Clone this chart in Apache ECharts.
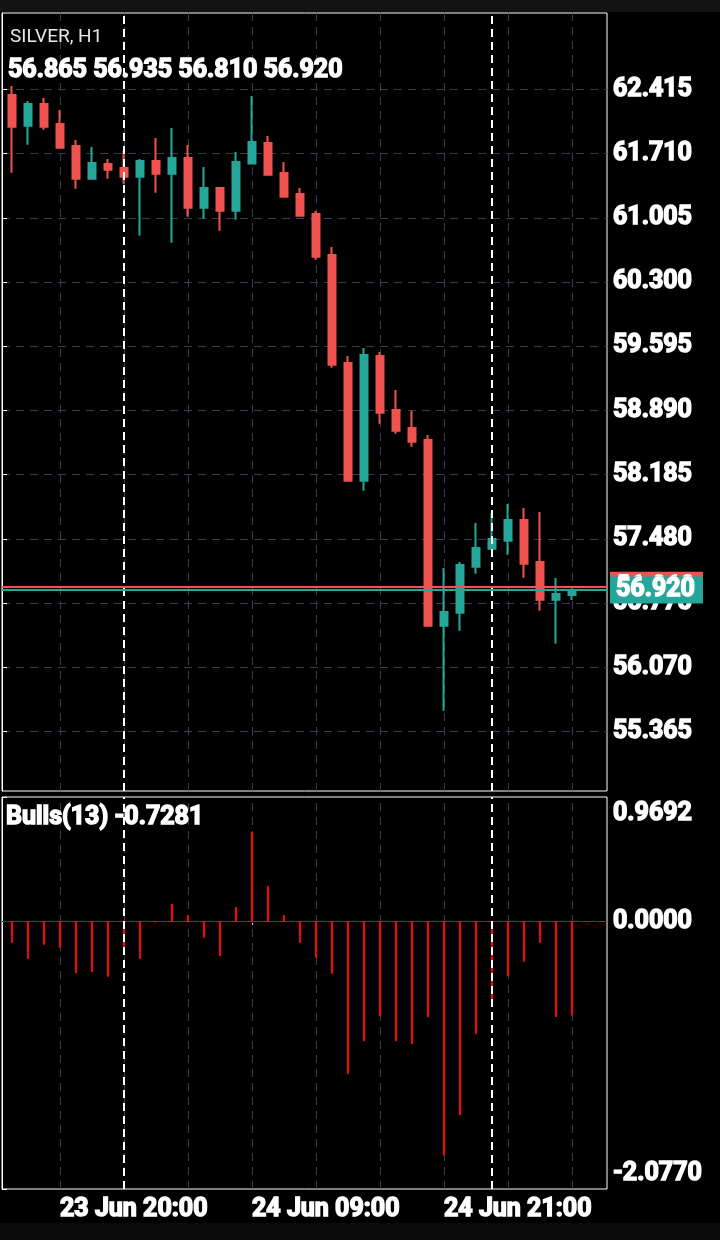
<!DOCTYPE html>
<html>
<head>
<meta charset="utf-8">
<script src="https://cdn.jsdelivr.net/npm/echarts@6/dist/echarts.min.js"></script>
<style>
  html, body { margin: 0; padding: 0; background: #000; }
  #chart { width: 720px; height: 1240px; }
</style>
</head>
<body>
<div id="chart"></div>
<script>
// chart data
var symbolName = 'SILVER, H1';
var times = [
  '23 Jun 17:00', '23 Jun 18:00', '23 Jun 19:00', '23 Jun 20:00', '23 Jun 21:00', '23 Jun 22:00',
  '23 Jun 23:00', '24 Jun 01:00', '24 Jun 02:00', '24 Jun 03:00', '24 Jun 04:00', '24 Jun 05:00',
  '24 Jun 06:00', '24 Jun 07:00', '24 Jun 08:00', '24 Jun 09:00', '24 Jun 10:00', '24 Jun 11:00',
  '24 Jun 12:00', '24 Jun 13:00', '24 Jun 14:00', '24 Jun 15:00', '24 Jun 16:00', '24 Jun 17:00',
  '24 Jun 18:00', '24 Jun 19:00', '24 Jun 20:00', '24 Jun 21:00', '24 Jun 22:00', '24 Jun 23:00',
  '25 Jun 01:00', '25 Jun 02:00', '25 Jun 03:00', '25 Jun 04:00', '25 Jun 05:00', '25 Jun 06:00'
];
var opens = [62.352, 62.016, 62.254, 62.034, 61.793, 61.434, 61.595, 61.551, 61.456, 61.628, 61.489, 61.661,
  61.116, 61.332, 61.083, 61.599, 61.826, 61.496, 61.266, 61.047, 60.597, 59.411, 58.120, 59.488,
  58.895, 58.698, 58.566, 56.528, 56.671, 57.176, 57.373, 57.461, 57.688, 57.227, 56.814, 56.865];
var highs = [62.451, 62.287, 62.320, 62.188, 61.859, 61.782, 61.650, 61.738, 61.650, 61.881, 61.990, 61.804,
  61.562, 61.335, 61.727, 62.342, 61.903, 61.617, 61.332, 61.079, 60.684, 59.488, 59.576, 59.532,
  59.115, 58.885, 58.621, 57.162, 57.227, 57.655, 57.765, 57.864, 57.820, 57.776, 57.052, 56.935];
var lows = [61.500, 61.807, 61.972, 61.770, 61.324, 61.430, 61.434, 61.379, 60.808, 61.280, 60.732, 61.017,
  60.995, 60.863, 60.984, 61.595, 61.475, 61.225, 61.017, 60.545, 59.360, 58.109, 58.010, 58.745,
  58.635, 58.493, 56.525, 55.595, 56.473, 57.099, 57.370, 57.307, 57.055, 56.693, 56.331, 56.810];
var closes = [62.005, 62.254, 62.005, 61.774, 61.434, 61.606, 61.533, 61.456, 61.628, 61.489, 61.661, 61.116,
  61.332, 61.083, 61.617, 61.837, 61.478, 61.236, 61.028, 60.578, 59.393, 58.120, 59.499, 58.866,
  58.668, 58.548, 56.528, 56.679, 57.194, 57.381, 57.480, 57.688, 57.209, 56.814, 56.876, 56.920];
var bulls = [-0.163, -0.288, -0.179, -0.203, -0.400, -0.390, -0.428, -0.249, -0.288, -0.004, 0.138, 0.050,
  -0.125, -0.267, 0.115, 0.699, 0.278, 0.050, -0.163, -0.280, -0.405, -1.184, -0.929, -0.732,
  -0.929, -0.950, -0.742, -1.815, -1.504, -0.873, -0.615, -0.421, -0.312, -0.163, -0.740, -0.7281];
var priceTicks = [55.365, 56.070, 56.775, 57.480, 58.185, 58.890, 59.595, 60.300, 61.005, 61.710, 62.415];
var bullsTicks = [-2.0770, 0, 0.9692];
var priceMin = 54.714, priceMax = 63.252;
var bidPrice = 56.920, askPrice = 56.962;
var separatorIdx = [7, 30];   // day separators
var gridStep = 4, gridStart = 3, labelStep = 12;

var UP = '#26a69a', DOWN = '#ef5350', GRID = '#3a3e4c';
var FONT = 'Roboto';

var chartDom = document.getElementById('chart');
var myChart = echarts.init(chartDom);

var candles = [];
for (var i = 0; i < times.length; i++) {
  candles.push([opens[i], closes[i], lows[i], highs[i]]);
}
var last = times.length - 1;
var ohlcText = [opens[last], highs[last], lows[last], closes[last]].map(function (v) { return v.toFixed(3); }).join(' ');

var vGrid = [];
for (var k = gridStart; k < times.length; k += gridStep) vGrid.push({ xAxis: times[k] });
var seps = separatorIdx.map(function (k) { return { xAxis: times[k] }; });

var boldText = {
  color: '#fff', fontFamily: FONT, fontWeight: 'bold', fontSize: 25,
  textBorderColor: '#fff', textBorderWidth: 1.5
};

function lineMarks(data, style, z) {
  return { symbol: 'none', silent: true, animation: false, z: z, label: { show: false }, lineStyle: style, data: data };
}

var option = {
  backgroundColor: '#000',
  animation: false,
  graphic: [
    { type: 'rect', shape: { x: 0, y: 0, width: 720, height: 12 }, style: { fill: '#131313' } },
    { type: 'rect', shape: { x: 0, y: 1223, width: 720, height: 17 }, style: { fill: '#0b0b0b' } },
    { type: 'text', x: 10, y: 37, z: 100, style: { text: symbolName, fill: '#e8e8e8', font: '19px ' + FONT, verticalAlign: 'middle' } },
    { type: 'text', x: 8, y: 71, z: 100, style: { text: ohlcText, fill: '#fff', font: 'bold 25px ' + FONT, verticalAlign: 'middle', stroke: '#fff', lineWidth: 1.5 } },
    { type: 'text', x: 6, y: 818, z: 100, style: { text: 'Bulls(13) ' + bulls[last].toFixed(4), fill: '#fff', font: 'bold 25px ' + FONT, verticalAlign: 'middle', stroke: '#fff', lineWidth: 1.5 } }
  ],
  grid: [
    { left: 2, top: 13, width: 605, height: 778, show: true, borderColor: '#fff', borderWidth: 1, backgroundColor: '#000' },
    { left: 4, top: 13, width: 576, height: 778 },
    { left: 2, top: 797, width: 605, height: 392, show: true, borderColor: '#fff', borderWidth: 1, backgroundColor: '#000' },
    { left: 4, top: 797, width: 576, height: 392 }
  ],
  xAxis: [
    { type: 'value', gridIndex: 0, min: 0, max: 1, show: false },
    { type: 'category', gridIndex: 1, data: times, show: false },
    { type: 'value', gridIndex: 2, min: 0, max: 1, show: false },
    {
      type: 'category', gridIndex: 3, data: times,
      axisLine: { show: false },
      axisTick: {
        show: true, alignWithLabel: true, length: 3, lineStyle: { color: '#fff' },
        interval: function (idx) { return idx % labelStep === gridStart; }
      },
      axisLabel: Object.assign({
        interval: function (idx) { return idx % labelStep === gridStart; },
        align: 'left', margin: 8
      }, boldText),
      splitLine: { show: false }
    }
  ],
  yAxis: [
    {
      type: 'value', gridIndex: 0, position: 'right', min: priceMin, max: priceMax,
      axisLine: { show: true, lineStyle: { color: '#fff' } },
      axisTick: { show: true, length: 5, customValues: priceTicks, lineStyle: { color: '#fff' } },
      axisLabel: Object.assign({
        customValues: priceTicks, margin: 6,
        formatter: function (v) { return v.toFixed(3); }
      }, boldText),
      splitLine: { show: true, lineStyle: { color: GRID, type: [8, 6] } }
    },
    { type: 'value', gridIndex: 1, min: priceMin, max: priceMax, show: false },
    {
      type: 'value', gridIndex: 2, position: 'right', min: bullsTicks[0], max: bullsTicks[2],
      axisLine: { show: true, lineStyle: { color: '#fff' } },
      axisTick: { show: true, length: 5, customValues: bullsTicks, lineStyle: { color: '#fff' } },
      axisLabel: {
        customValues: bullsTicks, margin: 6,
        formatter: function (v) {
          var s = v.toFixed(4);
          if (v > 0) return '{t|' + s + '}';
          if (v < 0) return '{b|' + s + '}';
          return '{m|' + s + '}';
        },
        rich: {
          t: Object.assign({ padding: [34, 0, 0, 0] }, boldText),
          m: Object.assign({}, boldText),
          b: Object.assign({ padding: [0, 0, 30, 0] }, boldText)
        }
      },
      splitLine: { show: false }
    },
    { type: 'value', gridIndex: 3, min: bullsTicks[0], max: bullsTicks[2], show: false }
  ],
  series: [
    // vertical grid, price pane
    {
      type: 'line', xAxisIndex: 1, yAxisIndex: 1, data: [], z: 1,
      markLine: lineMarks(vGrid, { color: GRID, width: 1, type: [8, 6] }, 1)
    },
    {
      type: 'candlestick', xAxisIndex: 1, yAxisIndex: 1, data: candles, barWidth: 8, z: 3,
      itemStyle: { color: UP, color0: DOWN, borderColor: UP, borderColor0: DOWN, borderWidth: 2 },
      markLine: lineMarks(seps, { color: '#fff', width: 2, type: [8, 5] }, 5)
    },
    // ask / bid lines
    {
      type: 'line', xAxisIndex: 0, yAxisIndex: 0, data: [], z: 5,
      markLine: {
        symbol: 'none', silent: true, animation: false, z: 6,
        lineStyle: { color: DOWN, width: 2, type: 'solid' },
        label: {
          show: true, position: 'end', distance: 3, backgroundColor: DOWN,
          padding: [2, 8, 2, 6], lineHeight: 25,
          color: '#fff', fontFamily: FONT, fontWeight: 'bold', fontSize: 25,
          formatter: function (p) { return p.value.toFixed(3); }
        },
        data: [{ yAxis: askPrice }]
      }
    },
    {
      type: 'line', xAxisIndex: 0, yAxisIndex: 0, data: [], z: 6,
      markLine: {
        symbol: 'none', silent: true, animation: false, z: 7,
        lineStyle: { color: UP, width: 2, type: 'solid' },
        label: Object.assign({
          show: true, position: 'end', distance: 3, backgroundColor: UP,
          padding: [1, 8, 1, 6], lineHeight: 25,
          formatter: function (p) { return p.value.toFixed(3); }
        }, boldText),
        data: [{ yAxis: bidPrice }]
      }
    },
    // indicator pane
    {
      type: 'line', xAxisIndex: 2, yAxisIndex: 2, data: [], z: 1,
      markLine: lineMarks([{ yAxis: 0 }], { color: GRID, width: 1, type: 'solid' }, 1)
    },
    {
      type: 'line', xAxisIndex: 2, yAxisIndex: 2, data: [], z: 2,
      markLine: lineMarks([{ yAxis: 0 }], { color: '#ff0000', width: 1, type: [6, 10], dashOffset: 10.5 }, 2)
    },
    {
      type: 'line', xAxisIndex: 3, yAxisIndex: 3, data: [], z: 1,
      markLine: lineMarks(vGrid, { color: GRID, width: 1, type: [8, 6] }, 1)
    },
    {
      type: 'bar', name: 'Bulls(13)', xAxisIndex: 3, yAxisIndex: 3, data: bulls, barWidth: 2, z: 3,
      itemStyle: { color: '#ff0000' },
      markLine: lineMarks(seps, { color: '#fff', width: 2, type: [8, 5] }, 5)
    }
  ]
};
option && myChart.setOption(option);
</script>
</body>
</html>
